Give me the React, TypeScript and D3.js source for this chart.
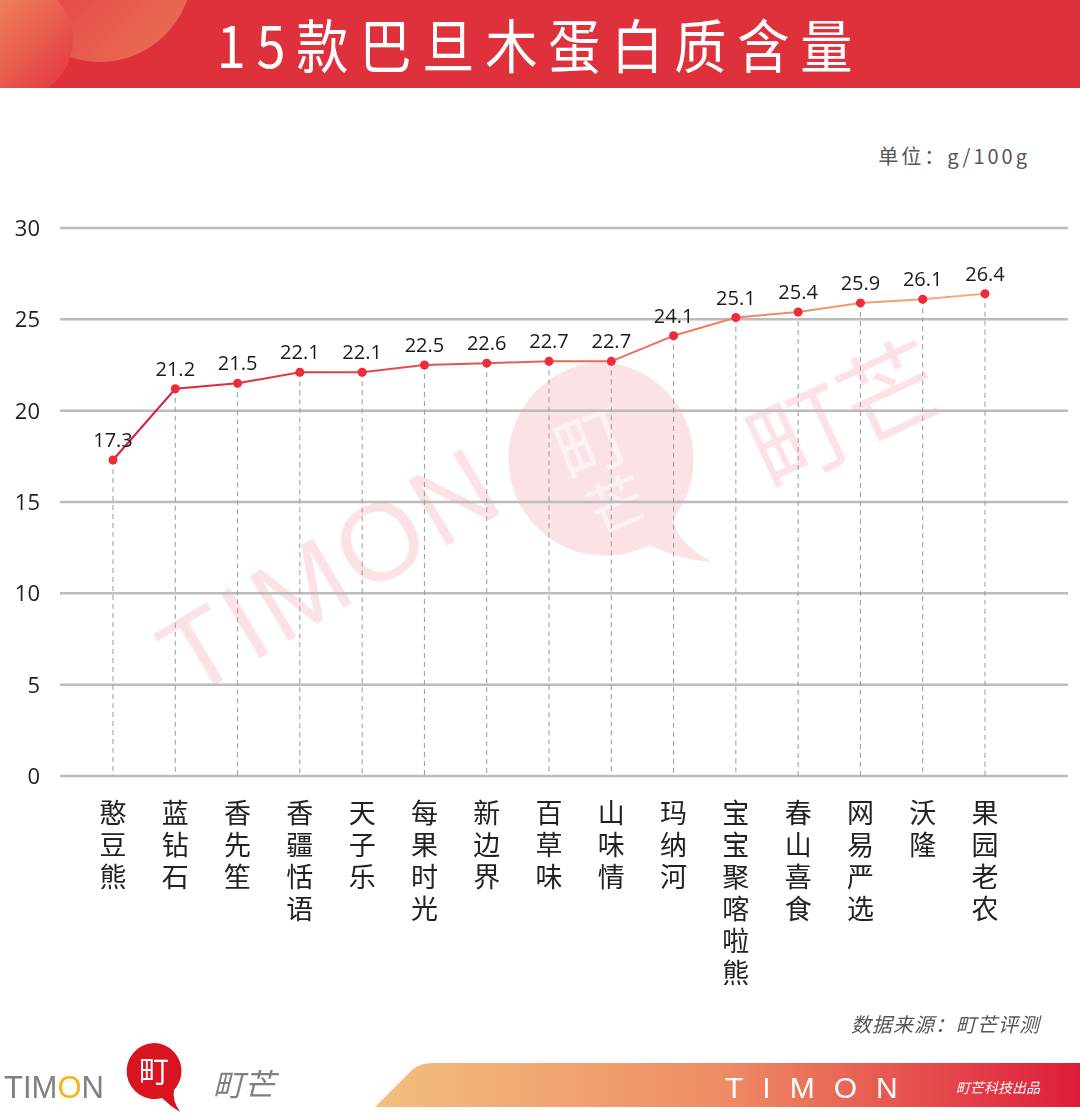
import * as d3 from 'd3';
import * as React from 'react';

const brands = ['憨豆熊', '蓝钻石', '香先笙', '香疆恬语', '天子乐', '每果时光', '新边界', '百草味', '山味情', '玛纳河', '宝宝聚喀啦熊', '春山喜食', '网易严选', '沃隆', '果园老农'];
const protein = [17.3, 21.2, 21.5, 22.1, 22.1, 22.5, 22.6, 22.7, 22.7, 24.1, 25.1, 25.4, 25.9, 26.1, 26.4];
const yTicks = [0, 5, 10, 15, 20, 25, 30];

const W = 1080;
const H = 1117;
const CJK = '"Noto Sans CJK SC", "Noto Sans", sans-serif';
const NUM = '"Open Sans", "Noto Sans", sans-serif';

export default function App() {
  const x = d3.scalePoint<string>().domain(brands).range([113, 985]);
  const y = d3.scaleLinear().domain([0, 30]).range([776, 228]);

  const pts = brands.map((b, i) => ({ name: b, value: protein[i] }));
  const lineGen = d3.line<{ name: string; value: number }>()
    .x(d => x(d.name) as number)
    .y(d => y(d.value));

  return (
    <svg width={W} height={H} viewBox={`0 0 ${W} ${H}`}
      style={{ position: 'absolute', left: 0, top: 0, background: '#fff' }}>
      <defs>
        <linearGradient id='lineGrad' gradientUnits='userSpaceOnUse' x1={113} y1={0} x2={985} y2={0}>
          <stop offset='0' stopColor='#d81b3c' />
          <stop offset='0.55' stopColor='#ec6a55' />
          <stop offset='1' stopColor='#f4b07a' />
        </linearGradient>
        <linearGradient id='bandGrad' x1='0' y1='0' x2='1' y2='0'>
          <stop offset='0' stopColor='#f3bf7d' />
          <stop offset='0.5' stopColor='#ee8b64' />
          <stop offset='1' stopColor='#de1c3a' />
        </linearGradient>
        <linearGradient id='blobGrad' x1='0' y1='0' x2='1' y2='1'>
          <stop offset='0' stopColor='#f39a62' />
          <stop offset='1' stopColor='#e2323f' />
        </linearGradient>
        <linearGradient id='blobGrad2' x1='0' y1='0' x2='1' y2='1'>
          <stop offset='0' stopColor='#e2283c' />
          <stop offset='1' stopColor='#ec7b5a' />
        </linearGradient>
        <clipPath id='headClip'>
          <rect x={0} y={0} width={W} height={88} />
        </clipPath>
      </defs>

      {/* header */}
      <rect x={0} y={0} width={W} height={88} fill='#df313b' />
      <g clipPath='url(#headClip)'>
        <circle cx={100} cy={-30} r={92} fill='url(#blobGrad2)' opacity={0.9} />
        <circle cx={15} cy={40} r={58} fill='url(#blobGrad)' />
      </g>
      <text transform='translate(540,68) scale(0.9,1)' textAnchor='middle' fill='#fff' fontFamily={CJK}
        fontSize={58} letterSpacing={12}>15款巴旦木蛋白质含量</text>

      {/* unit */}
      <text x={1030} y={164} textAnchor='end' fill='#555' fontFamily={CJK}
        fontSize={20} letterSpacing={3}>单位：g/100g</text>

      {/* watermark */}
      <g opacity={0.14} fill='#e0313b'>
        <text transform='translate(190,700) rotate(-31)' fontFamily='"Liberation Sans", sans-serif'
          fontSize={110} letterSpacing={4}>TIMON</text>
        <path d='M600,362 A97,97 0 1,0 650,545 Q680,560 712,562 Q680,545 672,520 A97,97 0 0,0 600,362 Z' />
        <text transform='translate(770,490) rotate(-25)' fontFamily={CJK} fontSize={100}>町芒</text>
      </g>
      <g transform='translate(598,458) rotate(-22)' opacity={0.55}>
        <text textAnchor='middle' y={10} fill='#fff' fontFamily={CJK} fontSize={72}>町</text>
        <text textAnchor='middle' y={72} fill='#fff' fontFamily={CJK} fontSize={58}>芒</text>
      </g>

      {/* grid */}
      <g>
        {yTicks.map(t => (
          <g key={t}>
            <line x1={60} x2={1068} y1={y(t)} y2={y(t)} stroke='#bcbcbc' strokeWidth={2.5} />
            <text x={40} y={y(t) + 8} textAnchor='end' fill='#222' fontFamily={NUM} fontSize={22}>{t}</text>
          </g>
        ))}
      </g>

      {/* drop lines */}
      {pts.map(p => (
        <line key={p.name} x1={x(p.name)} x2={x(p.name)} y1={y(p.value)} y2={y(0)}
          stroke='#999' strokeWidth={1} strokeDasharray='5,4' />
      ))}

      <path d={lineGen(pts) || ''} fill='none' stroke='url(#lineGrad)' strokeWidth={2} />

      {pts.map(p => (
        <g key={p.name}>
          <circle cx={x(p.name)} cy={y(p.value)} r={4.5} fill='#ef2b3a' />
          <text x={x(p.name)} y={y(p.value) - 13} textAnchor='middle' fill='#1a1a1a'
            fontFamily={NUM} fontSize={20}>{p.value.toFixed(1)}</text>
        </g>
      ))}

      {/* vertical category labels, one char per line */}
      {pts.map(p => (
        <text key={p.name} textAnchor='middle' fill='#222' fontFamily={CJK} fontSize={27}>
          {Array.from(p.name).map((ch, i) => (
            <tspan key={i} x={x(p.name)} y={823 + i * 32}>{ch}</tspan>
          ))}
        </text>
      ))}

      {/* source */}
      <text x={1040} y={1032} textAnchor='end' fill='#555' fontFamily={CJK} fontSize={20}
        fontStyle='italic' letterSpacing={1}>数据来源：町芒评测</text>

      {/* footer band */}
      <path d='M375,1107 L412,1070 Q420,1063 432,1063 L1080,1063 L1080,1107 Z' fill='url(#bandGrad)' />
      <text x={725} y={1098} fill='#fff' fontFamily='"Liberation Sans", sans-serif' fontSize={30}
        letterSpacing={19}>TIMON</text>
      <text x={1040} y={1093} textAnchor='end' fill='#fff' fontFamily={CJK} fontSize={14}
        fontStyle='italic'>町芒科技出品</text>

      {/* footer logo */}
      <text x={4} y={1098} fill='#808080' fontFamily='"Liberation Sans", sans-serif' fontSize={31}>
        TIM<tspan fill='#f2b520'>O</tspan>N
      </text>
      <path d='M154,1043 A28,28 0 1,0 162,1098 Q170,1106 180,1112 Q172,1100 174,1090 A28,28 0 0,0 154,1043 Z' fill='#d7141f' />
      <text x={154} y={1082} textAnchor='middle' fill='#fff' fontFamily={CJK} fontSize={30}>町</text>
      <text x={213} y={1096} fill='#808080' fontFamily={CJK} fontSize={31} fontStyle='italic'>町芒</text>
    </svg>
  );
}
